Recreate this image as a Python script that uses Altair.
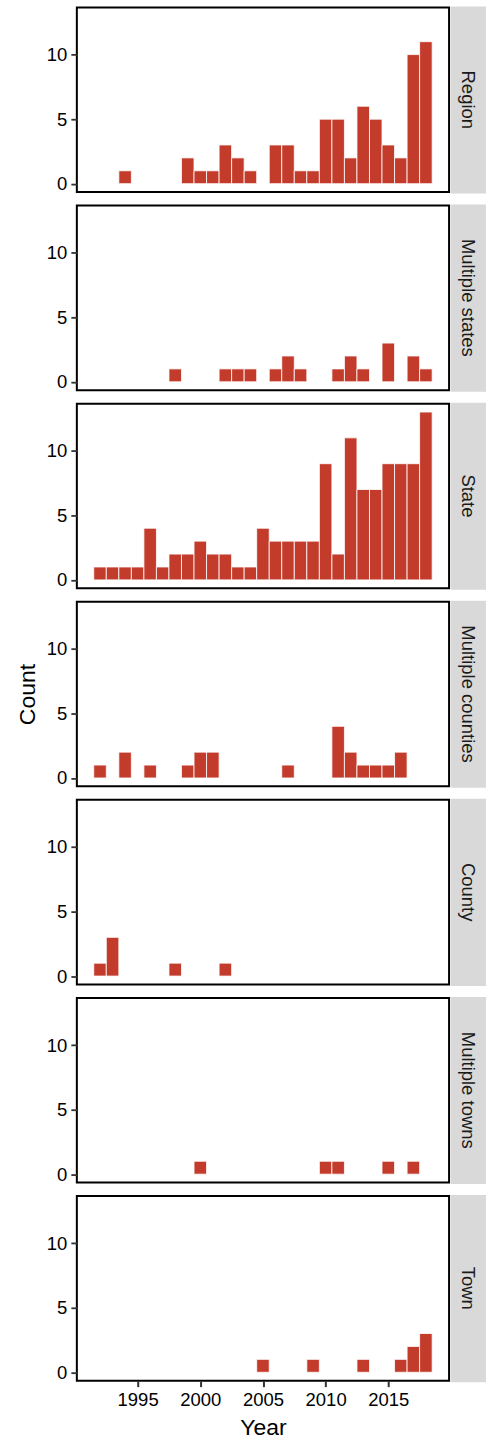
import altair as alt
import pandas as pd

levels = ["Region", "Multiple states", "State", "Multiple counties",
          "County", "Multiple towns", "Town"]

region_years = [1994, 1999, 2000, 2001, 2002, 2003, 2004, 2006, 2007, 2008,
                2009, 2010, 2011, 2012, 2013, 2014, 2015, 2016, 2017, 2018]
region_counts = [1, 2, 1, 1, 3, 2, 1, 3, 3, 1, 1, 5, 5, 2, 6, 5, 3, 2, 10, 11]

mstates_years = [1998, 2002, 2003, 2004, 2006, 2007, 2008, 2011, 2012, 2013,
                 2015, 2017, 2018]
mstates_counts = [1, 1, 1, 1, 1, 2, 1, 1, 2, 1, 3, 2, 1]

state_years = list(range(1992, 2019))
state_counts = [1, 1, 1, 1, 4, 1, 2, 2, 3, 2, 2, 1, 1, 4, 3, 3, 3, 3, 9, 2,
                11, 7, 7, 9, 9, 9, 13]

mcounties_years = [1992, 1994, 1996, 1999, 2000, 2001, 2007, 2011, 2012, 2013,
                   2014, 2015, 2016]
mcounties_counts = [1, 2, 1, 1, 2, 2, 1, 4, 2, 1, 1, 1, 2]

county_years = [1992, 1993, 1998, 2002]
county_counts = [1, 3, 1, 1]

mtowns_years = [2000, 2010, 2011, 2015, 2017]
mtowns_counts = [1, 1, 1, 1, 1]

town_years = [2005, 2009, 2013, 2016, 2017, 2018]
town_counts = [1, 1, 1, 1, 2, 3]

x_ticks = [1995, 2000, 2005, 2010, 2015]
y_ticks = [0, 5, 10]

series = {
    "Region": (region_years, region_counts),
    "Multiple states": (mstates_years, mstates_counts),
    "State": (state_years, state_counts),
    "Multiple counties": (mcounties_years, mcounties_counts),
    "County": (county_years, county_counts),
    "Multiple towns": (mtowns_years, mtowns_counts),
    "Town": (town_years, town_counts),
}

rows = []
for lvl in levels:
    ys, cs = series[lvl]
    for y, c in zip(ys, cs):
        rows.append({"level": lvl, "year": y, "count": c})
df = pd.DataFrame(rows)

RED = "#C33B2B"
FONT = "Liberation Sans"
W, H = 373, 185

xscale = alt.Scale(domain=[1990.15, 2019.85], nice=False, zero=False)
yscale = alt.Scale(domain=[-0.65, 13.65], nice=False, zero=False)


def panel(i, lvl):
    last = i == len(levels) - 1
    mid = i == 3
    d = df[df["level"] == lvl]
    if last:
        xaxis = alt.Axis(values=x_ticks, format="d", title="Year",
                         labelFontSize=18.5, labelColor="#000000",
                         tickSize=6, tickWidth=2, tickColor="#333333",
                         labelPadding=4, domain=False, grid=False,
                         titleFontSize=23, titleFontWeight="normal",
                         titleColor="#000000", titlePadding=7,
                         labelFont=FONT, titleFont=FONT)
    else:
        xaxis = None
    yaxis = alt.Axis(values=y_ticks, title="Count",
                     titleOpacity=1 if mid else 0,
                     labelFontSize=18.5, labelColor="#000000",
                     tickSize=6, tickWidth=1.8, tickColor="#333333",
                     labelPadding=4, domain=False, grid=False,
                     titleFontSize=23, titleFontWeight="normal",
                     titleColor="#000000", titlePadding=7,
                     labelFont=FONT, titleFont=FONT)
    bars = alt.Chart(d).transform_calculate(
        x0="datum.year - 0.5", x1="datum.year + 0.5"
    ).mark_rect(color=RED, stroke="#FFFFFF", strokeWidth=0.8).encode(
        x=alt.X("x0:Q", scale=xscale, axis=xaxis),
        x2="x1:Q",
        y=alt.Y("count:Q", scale=yscale, axis=yaxis),
        y2=alt.datum(0),
    )
    sdata = alt.Data(values=[{"label": lvl}])
    strip = alt.Chart(sdata).mark_rect(color="#D9D9D9").encode(
        x=alt.value(W + 1.6), x2=alt.value(W + 37),
        y=alt.value(-1), y2=alt.value(H + 1.5),
    )
    txt = alt.Chart(sdata).mark_text(
        angle=90, fontSize=18.5, color="#1A1A1A", font=FONT,
        align="center", baseline="middle"
    ).encode(x=alt.value(W + 18.5), y=alt.value(H / 2), text="label:N")
    return alt.layer(bars, strip, txt).properties(width=W, height=H)


chart = alt.vconcat(*[panel(i, l) for i, l in enumerate(levels)],
                    spacing=13.5, bounds="flush").properties(
    padding={"left": 15, "top": 4, "right": 0, "bottom": 5},
    background="#FFFFFF",
).configure_view(
    stroke="#000000", strokeWidth=2
)

chart.save("out.html", embed_options={"renderer": "svg", "actions": False})
